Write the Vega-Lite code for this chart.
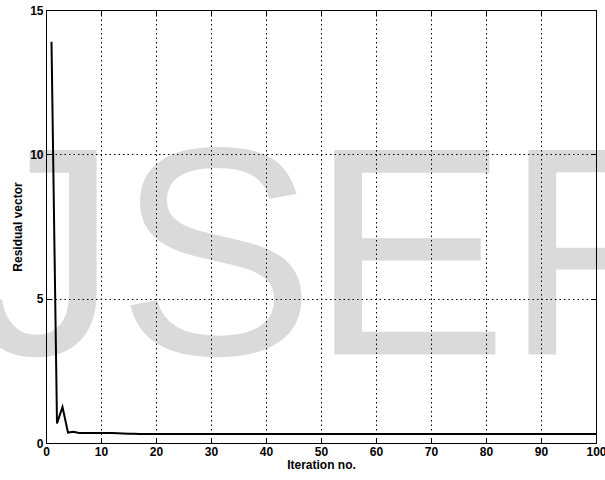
{
  "$schema": "https://vega.github.io/schema/vega-lite/v6.json",
  "width": 550,
  "height": 433,
  "autosize": "none",
  "padding": {"left": 46, "top": 10, "right": 9, "bottom": 37},
  "background": "white",
  "config": {
    "view": {"stroke": "black", "strokeWidth": 1},
    "font": "Liberation Sans",
    "axis": {
      "domain": false,
      "tickColor": "black",
      "tickSize": -5,
      "tickWidth": 1,
      "labelPadding": 8,
      "labelFlush": false,
      "labelOverlap": false,
      "labelColor": "black",
      "labelFont": "Liberation Sans",
      "labelFontWeight": "bold",
      "labelFontSize": 12,
      "titleColor": "black",
      "titleFont": "Liberation Sans",
      "titleFontWeight": "bold",
      "titleFontSize": 12,
      "gridColor": "black",
      "gridDash": [1.5, 3],
      "gridWidth": 1,
      "gridOpacity": 1
    }
  },
  "resolve": {"axis": {"x": "independent", "y": "independent"}},
  "layer": [
    {
      "data": {"values": [
        {"letter": "J", "x": -13.8, "y": 3.07},
        {"letter": "S", "x": 12.9, "y": 3.07},
        {"letter": "E", "x": 48.0, "y": 3.07},
        {"letter": "R", "x": 83.3, "y": 3.07}
      ]},
      "mark": {"type": "text", "font": "Liberation Sans", "fontSize": 297, "align": "left", "baseline": "alphabetic", "color": "black", "opacity": 0.14},
      "encoding": {
        "x": {"field": "x", "type": "quantitative", "scale": {"domain": [0, 100], "nice": false, "zero": false}, "axis": null},
        "y": {"field": "y", "type": "quantitative", "scale": {"domain": [0, 15], "nice": false, "zero": false}, "axis": null},
        "text": {"field": "letter"}
      }
    },
    {
      "data": {"name": "residual", "values": [
        {"it": 1, "r": 13.9}, {"it": 2, "r": 0.68}, {"it": 3, "r": 1.25}, {"it": 4, "r": 0.36}, {"it": 5, "r": 0.39},
        {"it": 6, "r": 0.35}, {"it": 7, "r": 0.35}, {"it": 8, "r": 0.35}, {"it": 9, "r": 0.35}, {"it": 10, "r": 0.35},
        {"it": 11, "r": 0.35}, {"it": 12, "r": 0.35}, {"it": 13, "r": 0.34}, {"it": 14, "r": 0.33}, {"it": 15, "r": 0.32},
        {"it": 16, "r": 0.32}, {"it": 17, "r": 0.31}, {"it": 18, "r": 0.31}, {"it": 19, "r": 0.31}, {"it": 20, "r": 0.31},
        {"it": 21, "r": 0.31}, {"it": 22, "r": 0.31}, {"it": 23, "r": 0.31}, {"it": 24, "r": 0.31}, {"it": 25, "r": 0.31},
        {"it": 26, "r": 0.31}, {"it": 27, "r": 0.31}, {"it": 28, "r": 0.31}, {"it": 29, "r": 0.31}, {"it": 30, "r": 0.31},
        {"it": 31, "r": 0.31}, {"it": 32, "r": 0.31}, {"it": 33, "r": 0.31}, {"it": 34, "r": 0.31}, {"it": 35, "r": 0.31},
        {"it": 36, "r": 0.31}, {"it": 37, "r": 0.31}, {"it": 38, "r": 0.31}, {"it": 39, "r": 0.31}, {"it": 40, "r": 0.31},
        {"it": 41, "r": 0.31}, {"it": 42, "r": 0.31}, {"it": 43, "r": 0.31}, {"it": 44, "r": 0.31}, {"it": 45, "r": 0.31},
        {"it": 46, "r": 0.31}, {"it": 47, "r": 0.31}, {"it": 48, "r": 0.31}, {"it": 49, "r": 0.31}, {"it": 50, "r": 0.31},
        {"it": 51, "r": 0.31}, {"it": 52, "r": 0.31}, {"it": 53, "r": 0.31}, {"it": 54, "r": 0.31}, {"it": 55, "r": 0.31},
        {"it": 56, "r": 0.31}, {"it": 57, "r": 0.31}, {"it": 58, "r": 0.31}, {"it": 59, "r": 0.31}, {"it": 60, "r": 0.31},
        {"it": 61, "r": 0.31}, {"it": 62, "r": 0.31}, {"it": 63, "r": 0.31}, {"it": 64, "r": 0.31}, {"it": 65, "r": 0.31},
        {"it": 66, "r": 0.31}, {"it": 67, "r": 0.31}, {"it": 68, "r": 0.31}, {"it": 69, "r": 0.31}, {"it": 70, "r": 0.31},
        {"it": 71, "r": 0.31}, {"it": 72, "r": 0.31}, {"it": 73, "r": 0.31}, {"it": 74, "r": 0.31}, {"it": 75, "r": 0.31},
        {"it": 76, "r": 0.31}, {"it": 77, "r": 0.31}, {"it": 78, "r": 0.31}, {"it": 79, "r": 0.31}, {"it": 80, "r": 0.31},
        {"it": 81, "r": 0.31}, {"it": 82, "r": 0.31}, {"it": 83, "r": 0.31}, {"it": 84, "r": 0.31}, {"it": 85, "r": 0.31},
        {"it": 86, "r": 0.31}, {"it": 87, "r": 0.31}, {"it": 88, "r": 0.31}, {"it": 89, "r": 0.31}, {"it": 90, "r": 0.31},
        {"it": 91, "r": 0.31}, {"it": 92, "r": 0.31}, {"it": 93, "r": 0.31}, {"it": 94, "r": 0.31}, {"it": 95, "r": 0.31},
        {"it": 96, "r": 0.31}, {"it": 97, "r": 0.31}, {"it": 98, "r": 0.31}, {"it": 99, "r": 0.31}, {"it": 100, "r": 0.31}
      ]},
      "mark": {"type": "line", "color": "black", "strokeWidth": 2, "strokeJoin": "miter"},
      "encoding": {
        "x": {"field": "it", "type": "quantitative", "scale": {"domain": [0, 100], "nice": false, "zero": false},
          "axis": {"orient": "bottom", "title": "Iteration no.", "values": [0, 10, 20, 30, 40, 50, 60, 70, 80, 90, 100], "grid": true, "titlePadding": 2}},
        "y": {"field": "r", "type": "quantitative", "scale": {"domain": [0, 15], "nice": false, "zero": false},
          "axis": {"orient": "left", "title": "Residual vector", "values": [0, 5, 10, 15], "grid": true, "titlePadding": 5}}
      }
    },
    {
      "data": {"name": "residual"},
      "mark": {"type": "line", "opacity": 0},
      "encoding": {
        "x": {"field": "it", "type": "quantitative", "scale": {"domain": [0, 100], "nice": false, "zero": false},
          "axis": {"orient": "top", "title": null, "labels": false, "grid": false, "values": [0, 10, 20, 30, 40, 50, 60, 70, 80, 90, 100]}},
        "y": {"field": "r", "type": "quantitative", "scale": {"domain": [0, 15], "nice": false, "zero": false},
          "axis": {"orient": "right", "title": null, "labels": false, "grid": false, "values": [0, 5, 10, 15]}}
      }
    }
  ]
}
